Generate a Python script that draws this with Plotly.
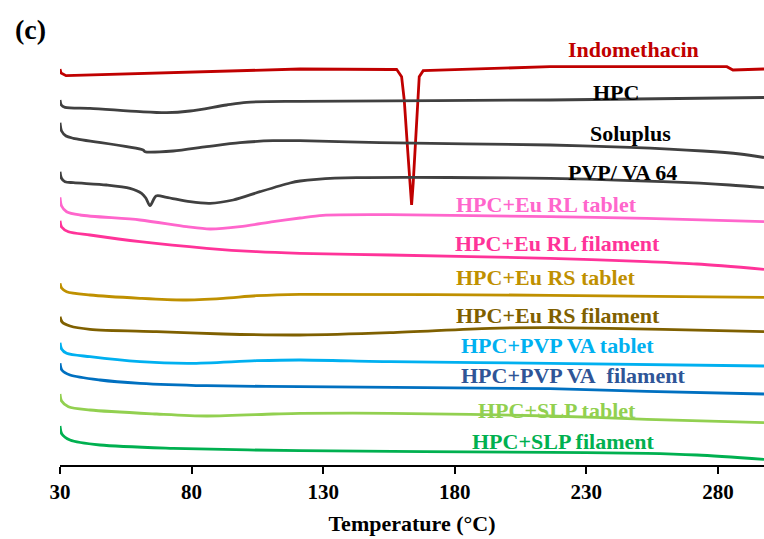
import plotly.graph_objects as go

# ---- Data (temperature in °C, stacked heat-flow offsets in arbitrary units) ----
names = ["Indomethacin", "HPC", "Soluplus", "PVP/ VA 64",
         "HPC+Eu RL tablet", "HPC+Eu RL filament", "HPC+Eu RS tablet",
         "HPC+Eu RS filament", "HPC+PVP VA tablet", "HPC+PVP VA\u00a0 filament",
         "HPC+SLP tablet", "HPC+SLP filament"]

t_indo = [30, 30.4, 32.3, 60, 121.2, 155.4, 157.9, 159.8, 160.8, 162.1, 163.0, 163.6,
          164.2, 164.9, 165.8, 166.5, 168.0, 216.2, 283.4, 285.7, 297.5]
hf_indo = [396, 392, 389.3, 391.4, 396, 395.5, 395.7, 388.3, 365, 315, 281.7, 260,
           281.7, 315, 365, 388.3, 394.3, 398.3, 398.3, 395, 396]

t_hpc = [30, 30.5, 31.9, 41.4, 60.4, 70.5, 79.4, 93.3, 100.9, 121.2, 216.2, 297.5]
hf_hpc = [365, 360, 357.7, 356.7, 353.3, 352.3, 354, 360, 362.7, 363.7, 365, 367.5]

t_slp = [30, 30.6, 32.3, 35.1, 61.6, 62.3, 73.0, 85.7, 98.4, 111.0, 121.2, 151.6,
         216.2, 246.6, 274.3, 288.4, 297.5]
hf_slp = [342.3, 334, 329, 326.7, 315, 313.3, 314, 318.3, 322.3, 324.3, 324.3, 322.3,
          320, 317.7, 314, 311, 307.5]

t_pvp = [30, 30.5, 31.9, 35.1, 47.7, 56.6, 61.0, 62.6, 64.2, 66.5, 70.5, 79.4, 87.0,
         95.8, 106.0, 117.4, 121.2, 127.5, 142.7, 216.2, 259.1, 284.5, 297.5]
hf_pvp = [293.3, 287, 283.3, 282.3, 280, 276.7, 271.7, 267, 259.3, 269, 267.7, 263.3,
          261.7, 265, 273.3, 282, 284, 285.7, 287.3, 286.7, 283.3, 280, 277.3]

t_rl_tab = [30, 30.6, 32.5, 37.6, 60.4, 78.1, 87.0, 98.4, 111.0, 121.2, 129.9, 155.4,
            216.2, 253.0, 297.5]
hf_rl_tab = [267.7, 259, 253.3, 250, 245, 238.3, 236, 238.3, 243.3, 247, 249.7, 250.3,
             248.3, 246.7, 243.3]

t_rl_fil = [30, 30.6, 33.2, 41.4, 60.4, 85.7, 104.7, 121.2, 155.4, 216.2, 253.0, 272.0, 297.5]
hf_rl_fil = [244.3, 238, 233.3, 230, 223.3, 216.7, 213.3, 211.7, 210, 206.7, 203.3, 201,
             195.7]

t_rs_tab = [30, 30.6, 32.5, 41.4, 60.4, 76.8, 92.0, 104.7, 121.2, 216.2, 297.5]
hf_rs_tab = [181.7, 177, 173.3, 170, 166.7, 165, 166.7, 169.3, 170.7, 169.7, 167.7]

t_rs_fil = [30, 30.8, 33.8, 41.4, 66.7, 92.0, 121.2, 155.4, 193.4, 216.2, 259.1, 297.5]
hf_rs_fil = [148.3, 143, 139, 135.7, 133.3, 131, 130, 132.3, 136.7, 137.3, 135.7, 133.3]

t_pvpva_tab = [30, 30.6, 32.5, 41.4, 60.4, 79.4, 104.7, 121.2, 155.4, 216.2, 297.5]
hf_pvpva_tab = [122.3, 116, 111.7, 108.3, 103.3, 101.7, 104.3, 105, 103.3, 101.7, 99]

t_pvpva_fil = [30, 30.7, 33.8, 45.2, 60.4, 85.7, 121.2, 216.2, 253.0, 297.5]
hf_pvpva_fil = [101.7, 95, 90, 85, 81.7, 79.3, 78.3, 76.3, 73.7, 71]

t_slp_tab = [30, 30.6, 33.2, 41.4, 66.7, 85.7, 111.0, 121.2, 155.4, 216.2, 253.0, 297.5]
hf_slp_tab = [71, 64, 58.3, 55, 51, 49, 51, 51.7, 51.7, 49, 45.7, 42.3]

t_slp_fil = [30, 30.7, 33.8, 45.2, 73.0, 121.2, 216.2, 253.0, 272.0, 297.5]
hf_slp_fil = [39, 31, 25, 20, 16.7, 14.3, 12.7, 11.7, 10, 5.7]

tick_vals = [30, 80, 130, 180, 230, 280]

# ---- Styles ----
line_colors = ["#C00000", "#404040", "#404040", "#404040", "#FF66CC", "#FF3399",
               "#BF9000", "#7F6000", "#00B0F0", "#0070C0", "#92D050", "#00B050"]
label_colors = ["#C00000", "#000000", "#000000", "#000000", "#FF66CC", "#FF3399",
                "#BF9000", "#7F6000", "#00B0F0", "#2F5597", "#92D050", "#00B050"]
label_pos = [(248.1, 416), (241.2, 373), (246.6, 332), (243.9, 293),
             (215.0, 261), (219.2, 222), (214.6, 188), (219.2, 150),
             (219.2, 120), (224.9, 90), (218.8, 55), (221.1, 24)]

series = [(t_indo, hf_indo), (t_hpc, hf_hpc), (t_slp, hf_slp), (t_pvp, hf_pvp),
          (t_rl_tab, hf_rl_tab), (t_rl_fil, hf_rl_fil), (t_rs_tab, hf_rs_tab),
          (t_rs_fil, hf_rs_fil), (t_pvpva_tab, hf_pvpva_tab),
          (t_pvpva_fil, hf_pvpva_fil), (t_slp_tab, hf_slp_tab), (t_slp_fil, hf_slp_fil)]

FONT = "Liberation Serif, Times New Roman, serif"

fig = go.Figure()
for i, (tx, hy) in enumerate(series):
    shape = "linear" if i == 0 else "spline"
    fig.add_trace(go.Scatter(
        x=tx, y=hy, mode="lines", name=names[i],
        line=dict(color=line_colors[i], width=2.8, shape=shape,
                  smoothing=0.8 if shape == "spline" else None),
        showlegend=False, hoverinfo="skip"))

for i, name in enumerate(names):
    fig.add_annotation(x=label_pos[i][0], y=label_pos[i][1], xref="x", yref="y",
                       text=name, showarrow=False, xanchor="center", yanchor="middle",
                       font=dict(family=FONT, size=22, color=label_colors[i], weight="bold"))

fig.add_annotation(x=-0.0426, y=0.9376, xref="paper", yref="paper", text="(c)",
                   showarrow=False, xanchor="center", yanchor="middle",
                   font=dict(family=FONT, size=28, color="black", weight="bold"))

fig.update_layout(
    width=764, height=539,
    margin=dict(l=60, r=0, t=0, b=74),
    paper_bgcolor="white", plot_bgcolor="white",
    xaxis=dict(range=[30, 297.5], tickvals=tick_vals, ticks="outside", ticklen=7,
               tickwidth=2, tickcolor="black", showline=True, linecolor="black",
               linewidth=2, showgrid=False, zeroline=False,
               tickfont=dict(family=FONT, size=21, color="black", weight="bold"),
               title=dict(text="Temperature (°C)", standoff=12,
                          font=dict(family=FONT, size=22, color="black", weight="bold"))),
    yaxis=dict(range=[0, 465], visible=False, showgrid=False, zeroline=False),
)

fig.write_html("out.html")
